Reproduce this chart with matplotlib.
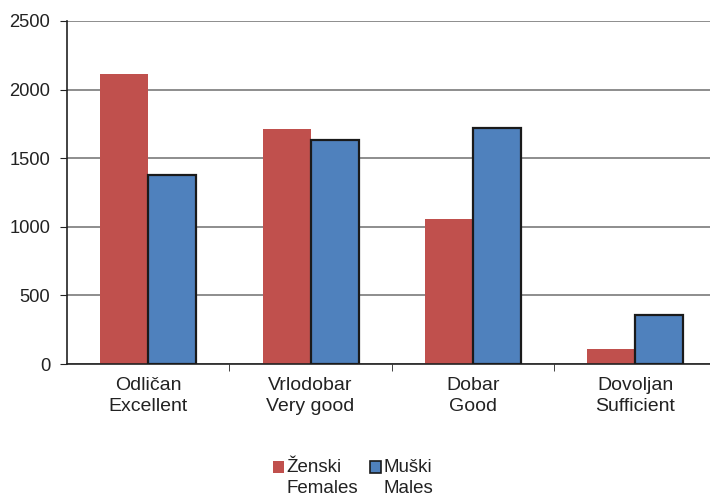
import matplotlib.pyplot as plt
import numpy as np
from matplotlib.legend_handler import HandlerPatch
from matplotlib.patches import Patch, Rectangle

plt.rcParams["font.family"] = ["Liberation Sans", "DejaVu Sans"]

categories = ["Odličan\nExcellent", "Vrlodobar\nVery good", "Dobar\nGood", "Dovoljan\nSufficient"]
females = [2114, 1713, 1057, 109]
males = [1378, 1633, 1720, 357]
series_labels = ["Ženski\nFemales", "Muški\nMales"]

RED = "#C0504D"
BLUE = "#4F81BD"
TEXT = "#222222"

fig = plt.figure(figsize=(7.1, 4.96), dpi=100)
ax = fig.add_axes([0.0944, 0.2661, 0.9056, 0.6916])

x = np.arange(len(categories))
w = 0.296
ax.bar(x - w / 2, females, w, color=RED, edgecolor="none", zorder=2)
ax.bar(x + w / 2, males, w, color=BLUE, edgecolor="#1a1a1a", lw=1.6, zorder=3)

ax.set_xlim(-0.5, 3.46)
ax.set_ylim(0, 2500)
ax.set_yticks(np.arange(0, 2501, 500))
ax.yaxis.grid(True, color="#7a7a7a", lw=1.2)
ax.set_axisbelow(True)

ax.set_xticks(x)
ax.set_xticklabels(categories, fontsize=14, color=TEXT, linespacing=1.32)
ax.set_xticks(np.arange(0.5, 3.5, 1), minor=True)
ax.tick_params(axis="x", which="major", length=0, pad=9.5)
ax.tick_params(axis="x", which="minor", length=5, color="#222222", direction="out")
ax.tick_params(axis="y", labelsize=13.2, colors=TEXT, length=5, direction="out", pad=7)
ax.tick_params(axis="y", color="#222222")

for side in ("top", "right"):
    ax.spines[side].set_visible(False)
for side in ("left", "bottom"):
    ax.spines[side].set_color("#222222")
    ax.spines[side].set_linewidth(1.2)


# legend square sits next to the first text line, not the middle of both
def top_square(legend, orig_handle, xdescent, ydescent, width, height, fontsize):
    return Rectangle((-xdescent, -ydescent + 0.58 * fontsize), width, height)


handles = [
    Patch(facecolor=RED, edgecolor="none"),
    Patch(facecolor=BLUE, edgecolor="#1a1a1a", lw=1.2),
]
leg = fig.legend(
    handles,
    series_labels,
    loc="center",
    bbox_to_anchor=(0.4975, 0.036),
    ncol=2,
    frameon=False,
    fontsize=13.5,
    borderpad=0,
    handlelength=0.6,
    handleheight=0.6,
    handletextpad=0.12,
    columnspacing=0.62,
    handler_map={Patch: HandlerPatch(patch_func=top_square)},
)
for t in leg.get_texts():
    t.set_color(TEXT)
    t.set_linespacing(1.3)

fig.savefig("out.png", dpi=100)
